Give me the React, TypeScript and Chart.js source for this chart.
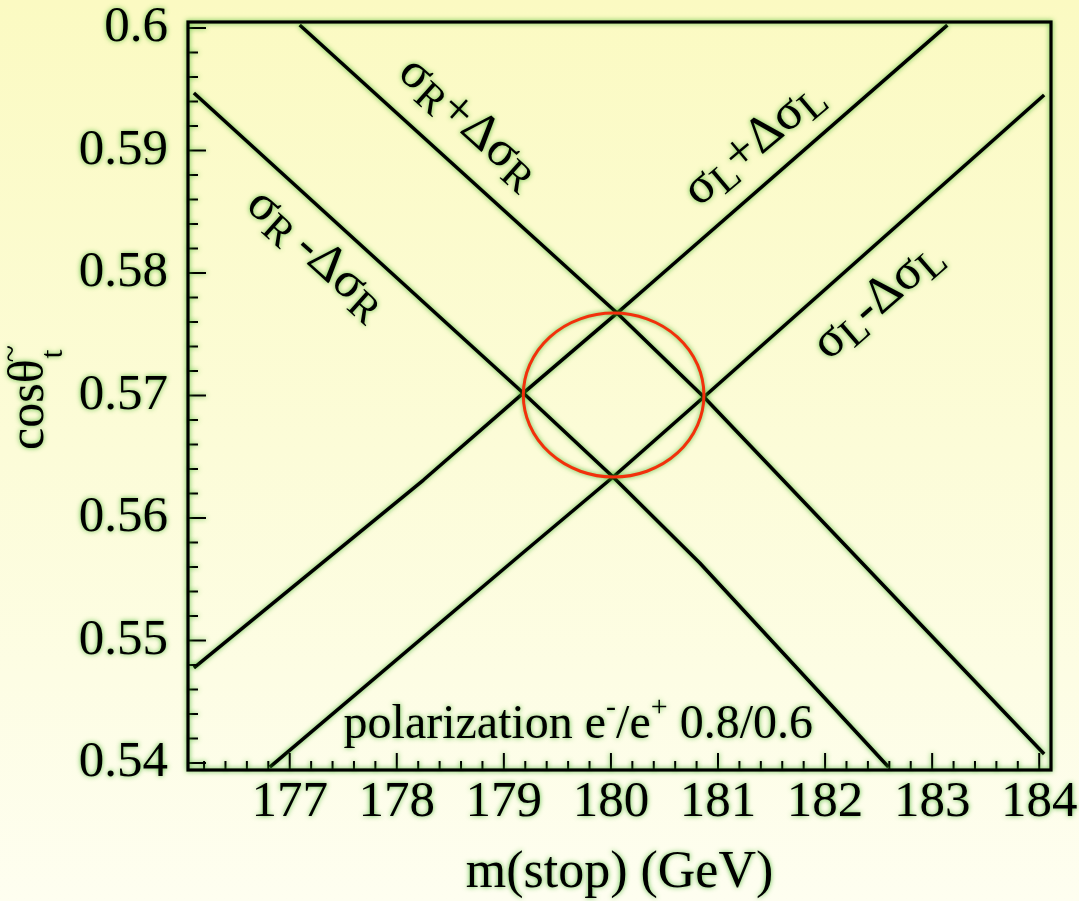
import React, { useEffect, useRef } from "react";
import { Chart, registerables } from "chart.js";

Chart.register(...registerables);

const SERIF = '"Liberation Serif", "Times New Roman", Times, serif';

// m(stop) axis, GeV
const massMin = 176.05;
const massMax = 184.11;
const massTicks = [177, 178, 179, 180, 181, 182, 183, 184];
const massTickLabels = ["177", "178", "179", "180", "181", "182", "183", "184"];

// cos(theta_stop) axis
const cosMin = 0.53943;
const cosMax = 0.60049;
const cosTicks = [0.54, 0.55, 0.56, 0.57, 0.58, 0.59, 0.6];
const cosTickLabels = ["0.54", "0.55", "0.56", "0.57", "0.58", "0.59", "0.6"];

// sigma_R - delta sigma_R
const rMinusMass = [176.105, 179.181, 180.02, 180.83, 182.592];
const rMinusCos = [0.59469, 0.5702, 0.56335, 0.55633, 0.53967];

// sigma_R + delta sigma_R
const rPlusMass = [177.093, 180.057, 180.868, 184.046];
const rPlusCos = [0.60024, 0.57673, 0.56988, 0.54073];

// sigma_L + delta sigma_L
const lPlusMass = [176.105, 178.249, 179.181, 180.057, 180.356, 183.142];
const lPlusCos = [0.54776, 0.5631, 0.5702, 0.57673, 0.579, 0.60024];

// sigma_L - delta sigma_L
const lMinusMass = [176.814, 179.153, 180.02, 180.868, 183.394, 184.046];
const lMinusCos = [0.53967, 0.55698, 0.56335, 0.56988, 0.58947, 0.59453];

// combined error ellipse: centre (mass, cos) and half-widths
const ellipseCentre = [180.025, 0.57004];
const ellipseHalfWidth = [0.8435, 0.00669];

type Part = [string, number]; // text, -1 subscript / 0 normal / 1 superscript

const bandLabels: { parts: Part[]; mass: number; cos: number; angle: number }[] = [
  { parts: [["σ", 0], ["R", -1], ["+", 0], ["Δσ", 0], ["R", -1]], mass: 178.66, cos: 0.59214, angle: 42 },
  { parts: [["σ", 0], ["R", -1], ["\u2009-", 0], ["Δσ", 0], ["R", -1]], mass: 177.234, cos: 0.58139, angle: 42 },
  { parts: [["σ", 0], ["L", -1], ["+", 0], ["Δσ", 0], ["L", -1]], mass: 181.35, cos: 0.59042, angle: -40 },
  { parts: [["σ", 0], ["L", -1], ["-", 0], ["Δσ", 0], ["L", -1]], mass: 182.508, cos: 0.57763, angle: -41 },
];

const polarizationParts: Part[] = [
  ["polarization e", 0],
  ["-", 1],
  ["/e", 0],
  ["+", 1],
  [" 0.8/0.6", 0],
];
const polarizationAt = [177.503, 0.54204];

function toPoints(xs: number[], ys: number[]) {
  return xs.map((x, i) => ({ x, y: ys[i] }));
}

function subdivide(majors: number[], div: number, min: number, max: number) {
  const step = majors[1] - majors[0];
  const out: number[] = [];
  for (let i = -1; i <= majors.length; i++) {
    const base = majors[0] + i * step;
    for (let k = 1; k < div; k++) {
      const v = base + (k * step) / div;
      if (v > min && v < max) out.push(v);
    }
  }
  return out;
}

function partFont(size: number, kind: number) {
  return `${kind === 0 ? size : Math.round(size * (kind < 0 ? 0.8 : 0.62))}px ${SERIF}`;
}

function drawParts(ctx: CanvasRenderingContext2D, parts: Part[], size: number, x0: number, y0: number) {
  let x = x0;
  for (const [t, kind] of parts) {
    ctx.font = partFont(size, kind);
    const dy = kind < 0 ? size * 0.14 : kind > 0 ? -size * 0.45 : 0;
    ctx.fillText(t, x, y0 + dy);
    x += ctx.measureText(t).width;
  }
}

function partsWidth(ctx: CanvasRenderingContext2D, parts: Part[], size: number) {
  let w = 0;
  for (const [t, kind] of parts) {
    ctx.font = partFont(size, kind);
    w += ctx.measureText(t).width;
  }
  return w;
}

const glowPlugin = {
  id: "glow",
  beforeDraw(chart: any) {
    const ctx = chart.ctx;
    ctx.shadowColor = "rgba(50,175,25,0.8)";
    ctx.shadowBlur = 5;
  },
  afterDraw(chart: any) {
    const ctx = chart.ctx;
    ctx.shadowColor = "rgba(0,0,0,0)";
    ctx.shadowBlur = 0;
  },
};

const framePlugin = {
  id: "frame",
  afterDatasetsDraw(chart: any) {
    const { ctx, chartArea: a, scales } = chart;
    const xs = scales.x;
    const ys = scales.y;
    ctx.save();
    ctx.strokeStyle = "#000";
    ctx.lineWidth = 2;
    ctx.beginPath();
    const xMinor = subdivide(massTicks, 5, massMin, massMax);
    for (const v of massTicks) {
      const p = xs.getPixelForValue(v);
      ctx.moveTo(p, a.bottom);
      ctx.lineTo(p, a.bottom - 17);
    }
    for (const v of xMinor) {
      const p = xs.getPixelForValue(v);
      ctx.moveTo(p, a.bottom);
      ctx.lineTo(p, a.bottom - 9);
    }
    const yMinor = subdivide(cosTicks, 5, cosMin, cosMax);
    for (const v of cosTicks) {
      const p = ys.getPixelForValue(v);
      ctx.moveTo(a.left, p);
      ctx.lineTo(a.left + 18, p);
    }
    for (const v of yMinor) {
      const p = ys.getPixelForValue(v);
      ctx.moveTo(a.left, p);
      ctx.lineTo(a.left + 10, p);
    }
    ctx.stroke();
    ctx.lineWidth = 3.2;
    ctx.strokeRect(a.left, a.top, a.right - a.left, a.bottom - a.top);
    ctx.restore();
  },
};

const ellipsePlugin = {
  id: "ellipse",
  afterDatasetsDraw(chart: any) {
    const { ctx, scales } = chart;
    const cx = scales.x.getPixelForValue(ellipseCentre[0]);
    const cy = scales.y.getPixelForValue(ellipseCentre[1]);
    const rx = Math.abs(scales.x.getPixelForValue(ellipseCentre[0] + ellipseHalfWidth[0]) - cx);
    const ry = Math.abs(scales.y.getPixelForValue(ellipseCentre[1] + ellipseHalfWidth[1]) - cy);
    ctx.save();
    ctx.strokeStyle = "#f2300c";
    ctx.lineWidth = 3;
    ctx.beginPath();
    ctx.ellipse(cx, cy, rx, ry, 0, 0, Math.PI * 2);
    ctx.stroke();
    ctx.restore();
  },
};

const textPlugin = {
  id: "texts",
  afterDatasetsDraw(chart: any) {
    const { ctx, scales, chartArea: a } = chart;
    ctx.save();
    ctx.fillStyle = "#000";
    ctx.textBaseline = "alphabetic";
    ctx.textAlign = "left";
    const size = 51;
    for (const lab of bandLabels) {
      const px = scales.x.getPixelForValue(lab.mass);
      const py = scales.y.getPixelForValue(lab.cos);
      const w = partsWidth(ctx, lab.parts, size);
      ctx.save();
      ctx.translate(px, py);
      ctx.rotate((lab.angle * Math.PI) / 180);
      drawParts(ctx, lab.parts, size, -w / 2, size * 0.22);
      ctx.restore();
    }
    // polarization note
    drawParts(
      ctx,
      polarizationParts,
      48,
      scales.x.getPixelForValue(polarizationAt[0]),
      scales.y.getPixelForValue(polarizationAt[1])
    );

    // y-axis title: cos theta with subscript stop (t with tilde)
    const midY = (a.top + a.bottom) / 2;
    ctx.save();
    ctx.translate(43, midY + 54);
    ctx.rotate(-Math.PI / 2);
    ctx.font = `50px ${SERIF}`;
    const main = "cosθ";
    ctx.fillText(main, 0, 0);
    const mw = ctx.measureText(main).width;
    ctx.font = `32px ${SERIF}`;
    ctx.fillText("t", mw + 1, 19);
    const tw = ctx.measureText("t").width;
    ctx.textAlign = "center";
    ctx.fillText("~", mw + 1 + tw / 2, -22);
    ctx.restore();
    ctx.restore();
  },
};

export default function App() {
  const ref = useRef<HTMLCanvasElement>(null);

  useEffect(() => {
    document.body.style.margin = "0";
    const canvas = ref.current;
    if (!canvas) return;
    const lineStyle = {
      showLine: true,
      borderColor: "#000",
      borderWidth: 3.5,
      pointRadius: 0,
      pointHoverRadius: 0,
      tension: 0,
      fill: false,
      borderJoinStyle: "round" as const,
    };
    const chart = new Chart(canvas, {
      type: "scatter",
      data: {
        datasets: [
          { label: "σR-ΔσR", data: toPoints(rMinusMass, rMinusCos), ...lineStyle },
          { label: "σR+ΔσR", data: toPoints(rPlusMass, rPlusCos), ...lineStyle },
          { label: "σL+ΔσL", data: toPoints(lPlusMass, lPlusCos), ...lineStyle },
          { label: "σL-ΔσL", data: toPoints(lMinusMass, lMinusCos), ...lineStyle },
        ],
      },
      options: {
        animation: false,
        responsive: false,
        maintainAspectRatio: false,
        events: [],
        layout: { padding: { top: 22, right: 28, bottom: 0, left: 0 } },
        plugins: {
          legend: { display: false },
          tooltip: { enabled: false },
        },
        scales: {
          x: {
            type: "linear",
            min: massMin,
            max: massMax,
            afterBuildTicks: (s: any) => {
              s.ticks = massTicks.map((value) => ({ value }));
            },
            afterFit: (s: any) => {
              s.height = 131;
              s.paddingLeft = 0;
              s.paddingRight = 0;
            },
            grid: { display: false, drawTicks: false, tickLength: 0 },
            border: { display: false },
            ticks: {
              autoSkip: false,
              maxRotation: 0,
              padding: 2,
              color: "#000",
              font: { family: SERIF, size: 51 },
              callback: (v: any) => {
                const i = massTicks.findIndex((t) => Math.abs(t - Number(v)) < 1e-6);
                return i >= 0 ? massTickLabels[i] : "";
              },
            },
            title: {
              display: true,
              text: "m(stop) (GeV)",
              color: "#000",
              font: { family: SERIF, size: 52, lineHeight: 1.08 },
              padding: { top: 0, bottom: 0 },
            },
          },
          y: {
            type: "linear",
            min: cosMin,
            max: cosMax,
            afterBuildTicks: (s: any) => {
              s.ticks = cosTicks.map((value) => ({ value }));
            },
            afterFit: (s: any) => {
              s.width = 188;
              s.paddingTop = 0;
              s.paddingBottom = 0;
            },
            grid: { display: false, drawTicks: false, tickLength: 0 },
            border: { display: false },
            ticks: {
              autoSkip: false,
              padding: 20,
              color: "#000",
              font: { family: SERIF, size: 51 },
              callback: (v: any) => {
                const i = cosTicks.findIndex((t) => Math.abs(t - Number(v)) < 1e-7);
                return i >= 0 ? cosTickLabels[i] : "";
              },
            },
          },
        },
      },
      plugins: [glowPlugin, ellipsePlugin, framePlugin, textPlugin],
    } as any);
    return () => chart.destroy();
  }, []);

  return (
    <div
      style={{
        width: 1079,
        height: 901,
        background: "linear-gradient(180deg, #fbfac2 0%, #fcfcd8 50%, #fefef0 100%)",
      }}
    >
      <canvas ref={ref} width={1079} height={901} style={{ display: "block" }} />
    </div>
  );
}
